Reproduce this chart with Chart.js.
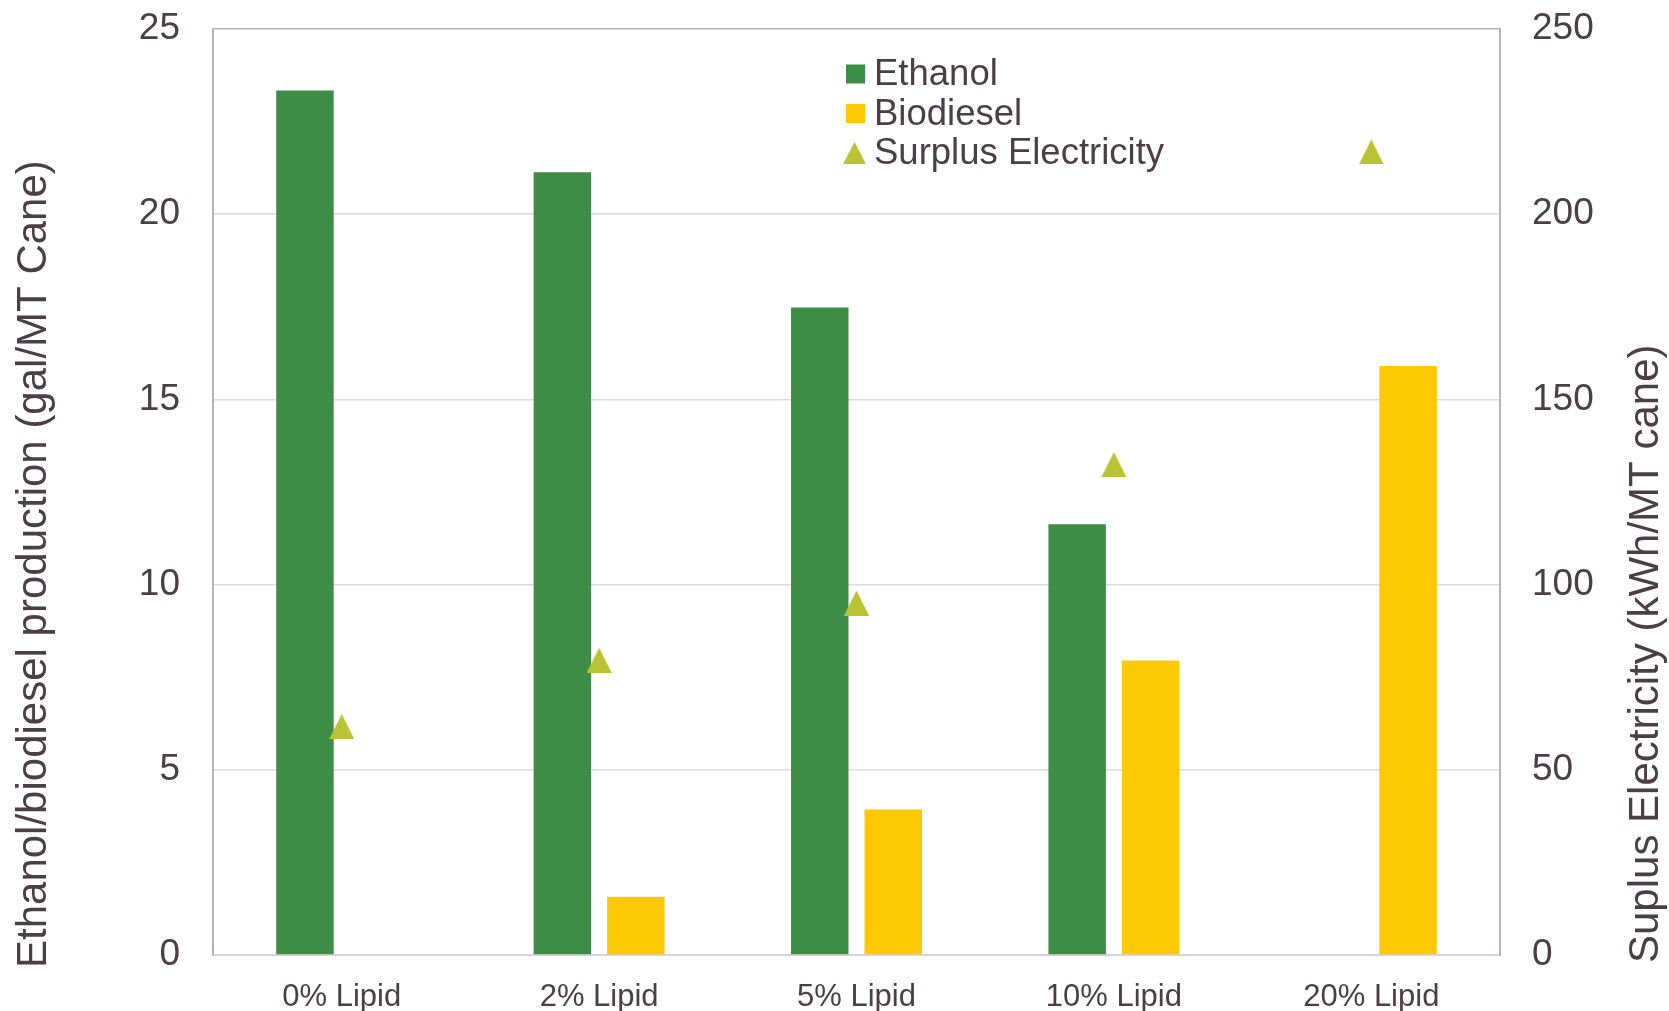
<!DOCTYPE html>
<html>
<head>
<meta charset="utf-8">
<script src="https://cdn.jsdelivr.net/npm/chart.js@4.4.1/dist/chart.umd.min.js"></script>
<style>
  html, body { margin: 0; padding: 0; background: #fff; }
  #wrap { width: 1669px; height: 1011px; }
</style>
</head>
<body>
<div id="wrap"><canvas id="grafico"></canvas></div>
<script>
// datos
const categorias = ['0% Lipid', '2% Lipid', '5% Lipid', '10% Lipid', '20% Lipid'];
const etanol = [23.34, 21.13, 17.48, 11.63, 0];
const biodiesel = [0, 1.57, 3.93, 7.95, 15.90];
const electricidad = [61.7, 79.6, 95.0, 132.4, 216.8];
const ticksIzq = [0, 5, 10, 15, 20, 25];
const ticksDer = [0, 50, 100, 150, 200, 250];

const colorTexto = '#4b3f45';
const fuente = '"Liberation Sans", Arial, sans-serif';

Chart.defaults.font.family = fuente;
Chart.defaults.color = colorTexto;

// triangulo tipo Excel (centrado en su caja)
function hacerTriangulo(w, h, color) {
    const c = document.createElement('canvas');
    c.width = w; c.height = h;
    const g = c.getContext('2d');
    g.fillStyle = color;
    g.beginPath();
    g.moveTo(w / 2, 0);
    g.lineTo(w, h);
    g.lineTo(0, h);
    g.closePath();
    g.fill();
    return c;
}
const triangulo = hacerTriangulo(25, 25, '#bac334');

// titulos de ejes y leyenda dibujados a mano
const extras = {
    id: 'extras',
    afterDraw(chart) {
        const ctx = chart.ctx;
        const a = chart.chartArea;
        ctx.save();
        ctx.fillStyle = colorTexto;
        ctx.textBaseline = 'alphabetic';
        ctx.textAlign = 'left';

        ctx.font = '42px ' + fuente;
        ctx.save();
        ctx.translate(46, a.bottom + 13);
        ctx.rotate(-Math.PI / 2);
        ctx.fillText('Ethanol/biodiesel production (gal/MT Cane)', 0, 0);
        ctx.restore();

        ctx.save();
        ctx.translate(1658, a.bottom + 8);
        ctx.rotate(-Math.PI / 2);
        ctx.fillText('Suplus Electricity (kWh/MT cane)', 0, 0);
        ctx.restore();

        // leyenda
        ctx.font = '36.5px ' + fuente;
        ctx.textBaseline = 'middle';
        const x0 = a.left + 633;
        const yb = a.top + 45;
        chart.data.datasets.forEach((ds, i) => {
            const y = yb + i * 39.5;
            if (ds.type === 'line') {
                ctx.drawImage(triangulo, x0 - 3, y - 11, 23, 22);
            } else {
                ctx.fillStyle = ds.backgroundColor;
                ctx.fillRect(x0, y - 9.5, 19, 19);
            }
            ctx.fillStyle = colorTexto;
            ctx.fillText(ds.label, x0 + 28, y + 1);
        });
        ctx.restore();
    }
};

const ajustarEje = ancho => s => {
    s.width = ancho;
    s.paddingTop = 0;
    s.paddingBottom = 0;
};

const ctxGraf = document.getElementById('grafico').getContext('2d');
new Chart(ctxGraf, {
    data: {
        labels: categorias,
        datasets: [
            {
                type: 'bar',
                label: 'Ethanol',
                data: etanol,
                backgroundColor: '#3d8d46',
                yAxisID: 'y',
                categoryPercentage: 0.571,
                barPercentage: 0.782,
                order: 1
            },
            {
                type: 'bar',
                label: 'Biodiesel',
                data: biodiesel,
                backgroundColor: '#fdc804',
                yAxisID: 'y',
                categoryPercentage: 0.571,
                barPercentage: 0.782,
                order: 1
            },
            {
                type: 'line',
                label: 'Surplus Electricity',
                data: electricidad,
                yAxisID: 'y1',
                showLine: false,
                pointStyle: triangulo,
                pointRadius: 13,
                order: 0
            }
        ]
    },
    options: {
        responsive: true,
        maintainAspectRatio: false,
        animation: false,
        layout: { padding: { top: 29, left: 0, right: 0, bottom: 0 } },
        plugins: {
            legend: { display: false },
            tooltip: { enabled: false }
        },
        scales: {
            x: {
                grid: { display: false, drawTicks: false },
                border: { color: '#d9d4d6', width: 2 },
                ticks: { font: { size: 31 }, padding: 24, maxRotation: 0 },
                afterFit: s => { s.height = 56; }
            },
            y: {
                position: 'left',
                min: 0,
                max: 25,
                afterBuildTicks: s => { s.ticks = ticksIzq.map(v => ({ value: v })); },
                ticks: { font: { size: 37 }, padding: 33 },
                grid: {
                    drawTicks: false,
                    lineWidth: 1.5,
                    color: c => c.tick && c.tick.value === 25 ? '#b5b5b5' : '#dcdcdc'
                },
                border: { color: '#b5b5b5', width: 2 },
                afterFit: ajustarEje(213)
            },
            y1: {
                position: 'right',
                min: 0,
                max: 250,
                afterBuildTicks: s => { s.ticks = ticksDer.map(v => ({ value: v })); },
                ticks: { font: { size: 37 }, padding: 32 },
                grid: { display: false, drawTicks: false },
                border: { color: '#b5b5b5', width: 2 },
                afterFit: ajustarEje(169)
            }
        }
    },
    plugins: [extras]
});
</script>
</body>
</html>
